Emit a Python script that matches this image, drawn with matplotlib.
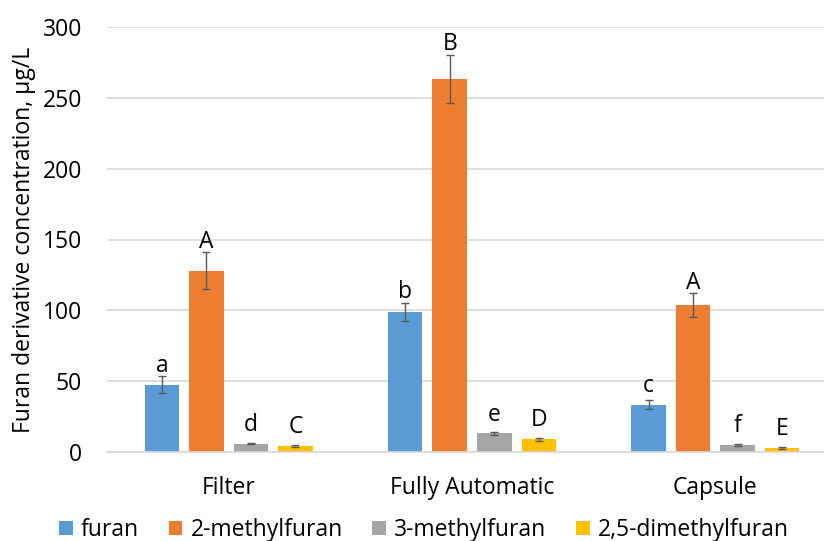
import numpy as np
import matplotlib.pyplot as plt

plt.rcParams['font.family'] = ['Open Sans', 'DejaVu Sans']

methods = ["Filter", "Fully Automatic", "Capsule"]
compounds = ["furan", "2-methylfuran", "3-methylfuran", "2,5-dimethylfuran"]
colors = ["#5B9BD5", "#ED7D31", "#A5A5A5", "#FFC000"]

# mean concentrations (ug/L) per compound, ordered Filter / Fully Automatic / Capsule
furan = [47.5, 99.0, 33.5]
methylfuran_2 = [128.0, 263.5, 103.5]
methylfuran_3 = [6.0, 13.2, 5.0]
dimethylfuran_25 = [4.3, 9.0, 2.8]

furan_err = [6.0, 6.5, 3.0]
methylfuran_2_err = [13.0, 17.0, 8.5]
methylfuran_3_err = [0.6, 1.0, 0.5]
dimethylfuran_25_err = [0.6, 1.0, 0.5]

# significance letters
furan_sig = ["a", "b", "c"]
methylfuran_2_sig = ["A", "B", "A"]
methylfuran_3_sig = ["d", "e", "f"]
dimethylfuran_25_sig = ["C", "D", "E"]

series = [furan, methylfuran_2, methylfuran_3, dimethylfuran_25]
errors = [furan_err, methylfuran_2_err, methylfuran_3_err, dimethylfuran_25_err]
sigs = [furan_sig, methylfuran_2_sig, methylfuran_3_sig, dimethylfuran_25_sig]

fs = 16.5
fig = plt.figure(figsize=(8.24, 5.41), dpi=100)
ax = fig.add_axes([107/824, 1 - 452/541, 730/824, 425/541])

x = np.arange(len(methods))
step = 0.183
width = 0.142
for i, (vals, err, sig) in enumerate(zip(series, errors, sigs)):
    pos = x + (i - 1.5) * step
    vals = np.array(vals)
    err = np.array(err)
    ax.bar(pos, vals, width, color=colors[i], label=compounds[i], zorder=2)
    ax.errorbar(pos, vals, yerr=err, fmt="none", ecolor="#595959",
                elinewidth=1, capsize=3, capthick=1, zorder=3)
    # letter sits just above the error bar, but never too close to a short bar
    label_y = np.maximum(vals + err + 3, vals + 9)
    for p, ly, s in zip(pos, label_y, sig):
        ax.text(p, ly, s, ha="center", va="baseline", fontsize=fs, color="black")

ax.set_xlim(-0.5, 2.5)
ax.set_ylim(0, 300)
ax.set_yticks(np.arange(0, 301, 50))
ax.set_xticks(x)
ax.set_xticklabels(methods)
ax.tick_params(axis="both", length=0, labelsize=fs, colors="black")
ax.tick_params(axis="y", pad=18)
ax.tick_params(axis="x", pad=17)
ax.grid(axis="y", color="#D9D9D9", linewidth=1.2, zorder=0)
ax.set_axisbelow(True)
for side in ["top", "right", "left"]:
    ax.spines[side].set_visible(False)
ax.spines["bottom"].set_color("#D9D9D9")
ax.spines["bottom"].set_linewidth(1.2)

ax.set_ylabel("Furan derivative concentration, µg/L", fontsize=fs)
ax.yaxis.set_label_coords(-0.097, 0.5)

fig.legend(*ax.get_legend_handles_labels(), loc="center", ncol=4,
           bbox_to_anchor=(424/824, 1 - 530/541), frameon=False, fontsize=fs,
           handlelength=0.6, handleheight=0.6, handletextpad=0.35, columnspacing=1.3,
           borderpad=0)

fig.savefig("out.png", dpi=100)
